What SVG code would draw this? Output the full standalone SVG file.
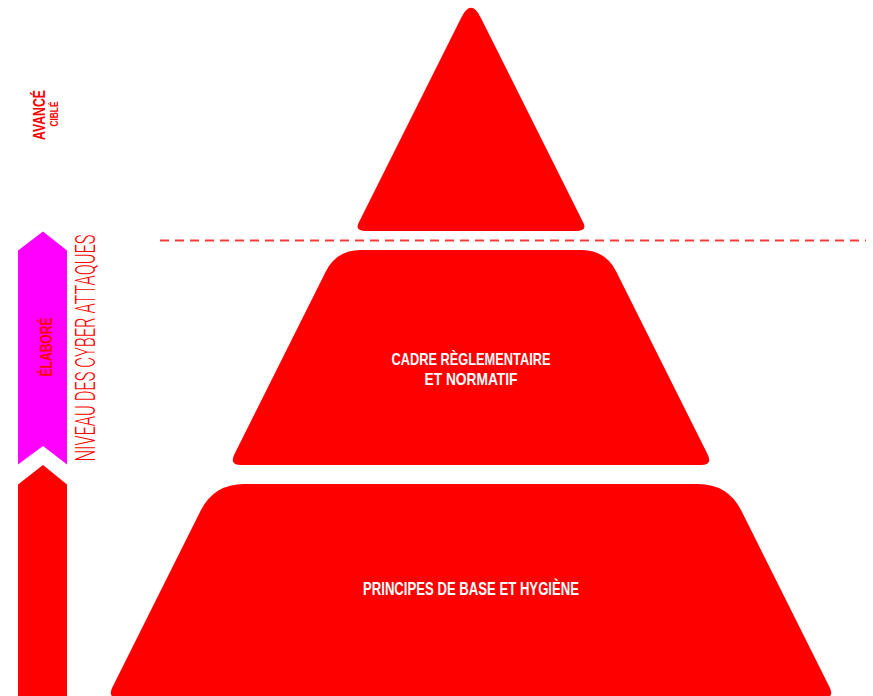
<svg xmlns="http://www.w3.org/2000/svg" width="873" height="696" viewBox="0 0 873 696">
<style>
.red{fill:#ff0000}
.mag{fill:#ff00ff}
.lbl{font-family:"Liberation Sans Narrow","Liberation Sans",Arial,sans-serif;font-weight:bold;fill:#ffffff;text-anchor:middle}
.side{font-family:"Liberation Sans Narrow","Liberation Sans",Arial,sans-serif;font-weight:bold;fill:#ff0000;text-anchor:middle}
.axis{font-family:Roboto,"Liberation Sans Narrow","Liberation Sans",sans-serif;font-weight:300;fill:#ff0000;text-anchor:middle}
</style>
<rect width="873" height="696" fill="#ffffff"/>
<g id="scale">
  <path class="mag" d="M43,231.5 L67,250.5 L67,464.5 L43,446 L18,464.5 L18,250.5 Z"/>
  <path class="red" d="M43,465 L67,484.5 L67,700 L18,700 L18,484.5 Z"/>
  <text class="side" font-size="17" transform="translate(52,347) rotate(-90)" textLength="59" lengthAdjust="spacingAndGlyphs">ÉLABORÉ</text>
  <text class="side" font-size="17" transform="translate(44.5,115) rotate(-90)" textLength="50" lengthAdjust="spacingAndGlyphs">AVANCÉ</text>
  <text class="side" font-size="11" transform="translate(58,114) rotate(-90)" textLength="25" lengthAdjust="spacingAndGlyphs">CIBLÉ</text>
  <text class="axis" font-size="27" transform="translate(95,348) rotate(-90)" textLength="227" lengthAdjust="spacingAndGlyphs">NIVEAU DES CYBER ATTAQUES</text>
</g>
<g id="connectors">
  <line x1="160" y1="240.5" x2="866" y2="240.5" stroke="#f43c3c" stroke-width="2" stroke-dasharray="9 6"/>
</g>
<g id="node-top">
  <path class="red" d="M461.2,17.7 Q471,-2 480.8,17.7 L583.7,223.5 Q587,231 576,231 L366,231 Q355,231 358.3,223.5 Z"/>
</g>
<g id="node-middle">
  <path class="red" d="M360.5,251 L581.5,251 Q605.5,251 616.2,272.5 L707.6,455.3 Q713,466 701,466 L241,466 Q229,466 234.4,455.3 L325.8,272.5 Q336.5,251 360.5,251 Z" transform="translate(0,-1)"/>
  <text class="lbl" font-size="16.5" x="471" y="364.5" textLength="159" lengthAdjust="spacingAndGlyphs">CADRE RÈGLEMENTAIRE</text>
  <text class="lbl" font-size="16.5" x="471" y="384.5" textLength="93" lengthAdjust="spacingAndGlyphs">ET NORMATIF</text>
</g>
<g id="node-bottom">
  <path class="red" d="M244,484 L698,484 Q728,484 741.4,510.8 L829.6,687.3 Q835,698 823,698 L119,698 Q107,698 112.4,687.3 L200.6,510.8 Q214,484 244,484 Z"/>
  <text class="lbl" font-size="17.5" x="471" y="595" textLength="216" lengthAdjust="spacingAndGlyphs">PRINCIPES DE BASE ET HYGIÈNE</text>
</g>
</svg>
